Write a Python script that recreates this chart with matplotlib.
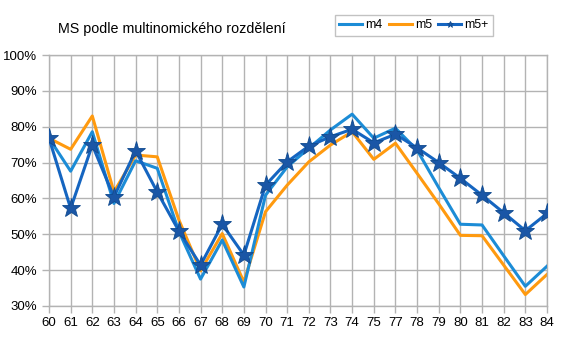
import matplotlib.pyplot as plt
import numpy as np

plt.rcParams["font.family"] = ["Liberation Sans", "DejaVu Sans"]

# category labels on the x axis (76 is not in the series)
labels = ["60", "61", "62", "63", "64", "65", "66", "67", "68", "69", "70", "71",
          "72", "73", "74", "75", "77", "78", "79", "80", "81", "82", "83", "84"]

# shares in percent
m4 = [76.8, 67.6, 78.6, 58.6, 70.5, 68.4, 50.8, 37.5, 48.4, 35.3, 60.9, 68.8,
      74.0, 79.1, 83.5, 76.8, 79.6, 73.5, 63.0, 52.8, 52.6, 44.0, 35.5, 41.1]
m5 = [76.8, 73.7, 83.0, 61.8, 72.1, 71.6, 54.0, 39.8, 50.2, 36.7, 56.3, 63.7,
      70.2, 74.9, 78.6, 70.9, 75.4, 67.0, 58.5, 49.7, 49.6, 41.4, 33.2, 38.8]
m5_plus = [76.8, 57.2, 74.9, 60.4, 73.3, 61.8, 50.9, 41.4, 52.8, 44.2, 63.7, 70.2,
           74.6, 77.2, 79.3, 75.5, 77.9, 74.1, 70.0, 65.6, 60.9, 56.0, 51.0, 55.8]

fig = plt.figure(figsize=(5.66, 3.37), dpi=100)
ax = fig.add_axes([49 / 566, 31 / 337, 498 / 566, 251 / 337])

x = np.arange(len(labels))
ax.plot(x, m4, color="#1c8cd6", lw=2.2, label="m4", zorder=3)
ax.plot(x, m5, color="#ff9a0f", lw=2.2, label="m5", zorder=2)
ax.plot(x, m5_plus, color="#1565c0", lw=2.2, marker="*", markersize=14,
        markerfacecolor="#1a56a6", markeredgecolor="#0f4a8f", markeredgewidth=0.6,
        label="m5+", zorder=4)

ax.set_xlim(0, len(labels) - 1)
ax.set_ylim(30, 100)
ax.set_xticks(x)
ax.set_xticklabels(labels)
ax.set_yticks(np.arange(30, 101, 10))
ax.set_yticklabels([f"{v}%" for v in range(30, 101, 10)])
ax.tick_params(axis="both", labelsize=9.5, colors="#b3b3b3", labelcolor="black",
               length=5, width=1)
ax.tick_params(axis="x", pad=3)

ax.grid(True, color="#b3b3b3", lw=1)
ax.set_axisbelow(True)
for side in ["top", "right", "left", "bottom"]:
    ax.spines[side].set_color("#b3b3b3")
    ax.spines[side].set_linewidth(1)

fig.text(58 / 566, 1 - 29 / 337, "MS podle multinomického rozdělení",
         fontsize=10.3, va="center", ha="left")

leg = fig.legend(loc="center", bbox_to_anchor=(414 / 566, 1 - 25.5 / 337), ncol=3,
                 fontsize=8.8, frameon=True, fancybox=False, handlelength=1.9,
                 handletextpad=0.25, columnspacing=0.5, borderpad=0.35,
                 markerscale=0.35)
leg.get_frame().set_edgecolor("#b3b3b3")
leg.get_frame().set_linewidth(1)

fig.savefig("out.png", dpi=100)
